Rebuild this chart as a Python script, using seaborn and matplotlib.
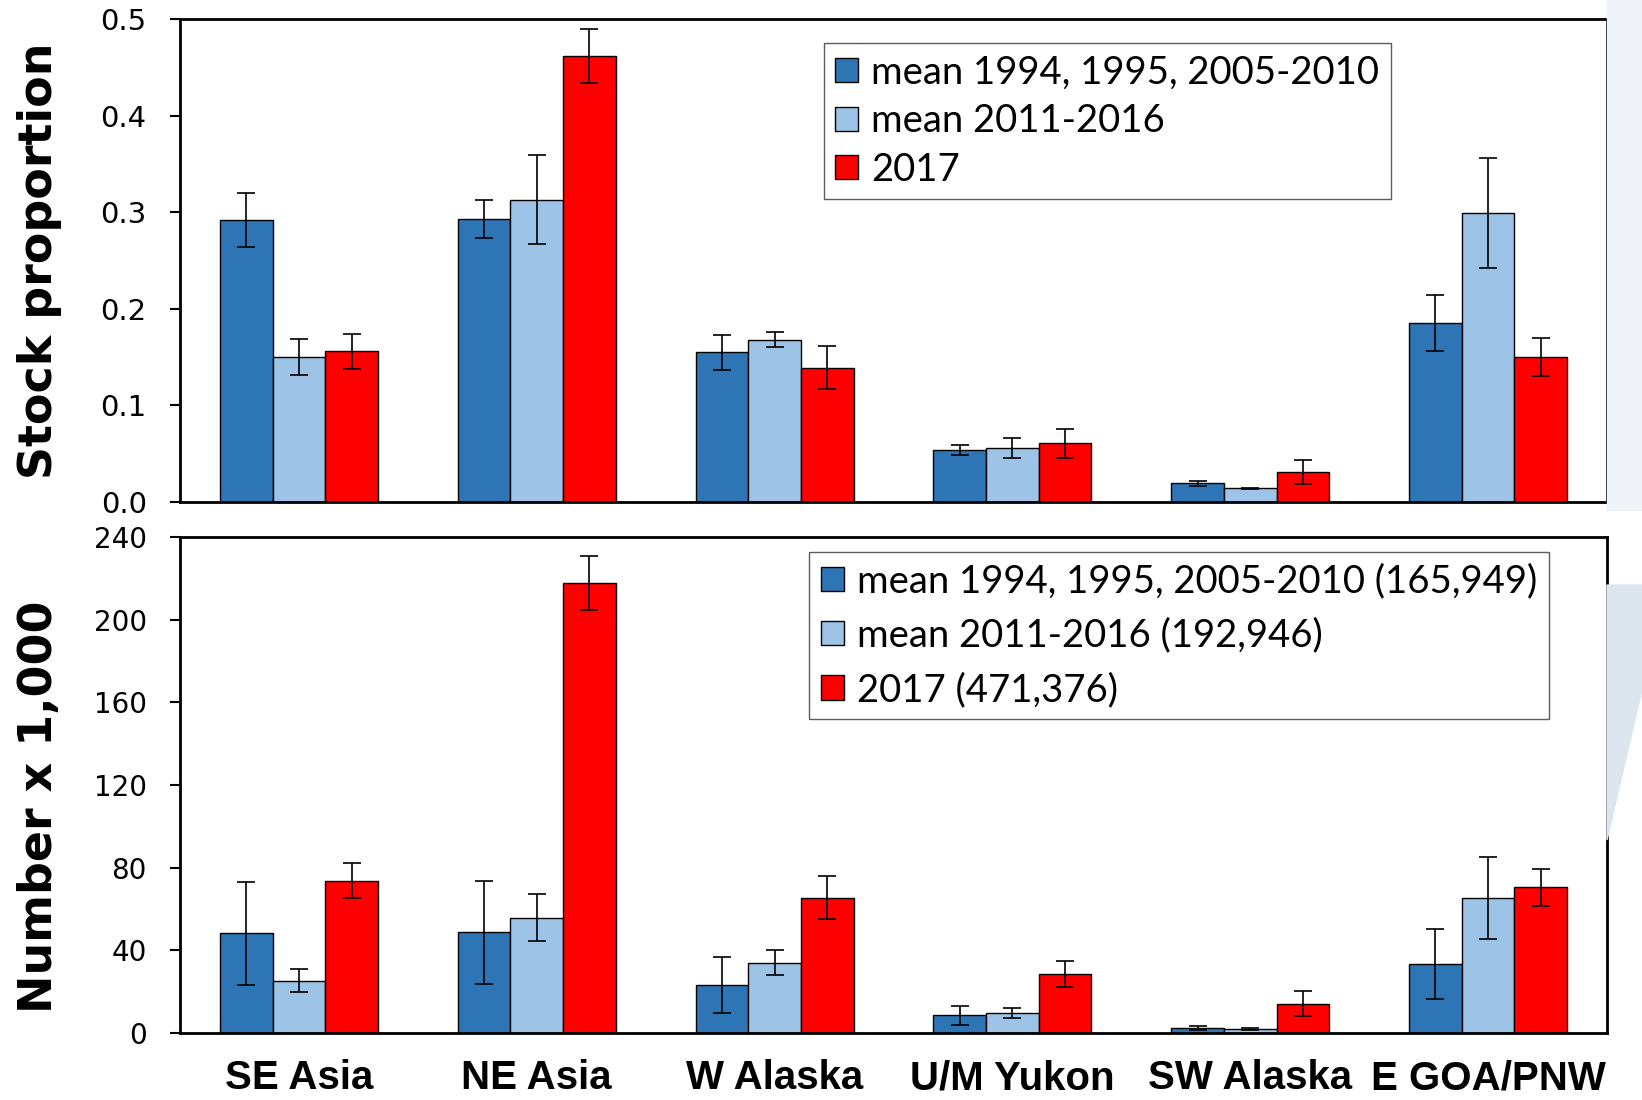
import numpy as np
import pandas as pd
import matplotlib
matplotlib.use("Agg")
import matplotlib.pyplot as plt
import matplotlib.patches as mpatches
import seaborn as sns

# data
regions = ["SE Asia", "NE Asia", "W Alaska", "U/M Yukon", "SW Alaska", "E GOA/PNW"]
periods = ["mean 1994, 1995, 2005-2010", "mean 2011-2016", "2017"]
period_totals = ["(165,949)", "(192,946)", "(471,376)"]

prop_early = [0.292, 0.293, 0.155, 0.054, 0.0195, 0.185]
prop_mid = [0.150, 0.313, 0.168, 0.056, 0.014, 0.299]
prop_2017 = [0.156, 0.462, 0.139, 0.061, 0.031, 0.150]
prop_early_err = [0.028, 0.020, 0.018, 0.0055, 0.0025, 0.029]
prop_mid_err = [0.019, 0.046, 0.008, 0.010, 0.001, 0.057]
prop_2017_err = [0.018, 0.028, 0.022, 0.015, 0.012, 0.020]

num_early = [48.2, 48.7, 23.3, 8.6, 2.5, 33.5]
num_mid = [25.4, 55.8, 34.0, 9.6, 2.0, 65.4]
num_2017 = [73.6, 217.7, 65.4, 28.4, 14.2, 70.5]
num_early_err = [25.0, 25.0, 13.7, 4.6, 1.0, 17.0]
num_mid_err = [5.5, 11.5, 6.0, 2.5, 0.5, 20.0]
num_2017_err = [8.5, 13.0, 10.4, 6.3, 6.0, 9.0]

colors = ["#2E75B6", "#9DC3E6", "#FF0000"]


def long_table(vals, errs):
    rows = []
    for p, v, e in zip(periods, vals, errs):
        for r, vv, ee in zip(regions, v, e):
            rows.append({"region": r, "period": p, "value": vv, "err": ee})
    return pd.DataFrame(rows)


df_prop = long_table([prop_early, prop_mid, prop_2017],
                     [prop_early_err, prop_mid_err, prop_2017_err])
df_num = long_table([num_early, num_mid, num_2017],
                    [num_early_err, num_mid_err, num_2017_err])

sns.set_style("white")
plt.rcParams["font.family"] = ["DejaVu Sans"]
plt.rcParams["text.color"] = "black"
plt.rcParams["axes.labelcolor"] = "black"
plt.rcParams["xtick.color"] = "black"
plt.rcParams["ytick.color"] = "black"

fig = plt.figure(figsize=(16.42, 11), dpi=100)
W, H = 1642, 1100

# faint slide background decoration on the right
fig.patches.append(mpatches.Rectangle((1607 / W, 1 - 510 / H), 35 / W, 510 / H,
                                      transform=fig.transFigure, color="#f0f3f7", zorder=0))
fig.patches.append(mpatches.Polygon([(1607 / W, 1 - 585 / H), (1.0, 1 - 585 / H),
                                     (1.0, 1 - 690 / H), (1607 / W, 1 - 840 / H)],
                                    closed=True, transform=fig.transFigure,
                                    color="#dde5ee", zorder=0))

ax1 = fig.add_axes([180 / W, 1 - 502 / H, 1427 / W, 483 / H])
ax2 = fig.add_axes([180 / W, 1 - 1033 / H, 1427 / W, 496 / H])


def draw(ax, df, tick_size):
    sns.barplot(data=df, x="region", y="value", hue="period", order=regions,
                hue_order=periods, palette=colors, errorbar=None, width=0.665,
                edgecolor="black", linewidth=1, saturation=1, ax=ax, zorder=2)
    for cont, p in zip(ax.containers, periods):
        sub = df[df["period"] == p].set_index("region").loc[regions]
        xs = [b.get_x() + b.get_width() / 2 for b in cont]
        ax.errorbar(xs, sub["value"], yerr=sub["err"], fmt="none", ecolor="black",
                    elinewidth=1.2, capsize=6.5, capthick=1.2, zorder=3)
    ax.set_xlim(-0.5, 5.5)
    for s in ax.spines.values():
        s.set_visible(True)
        s.set_color("black")
        s.set_linewidth(2)
    ax.tick_params(axis="y", direction="out", length=7, width=1.5, left=True,
                   labelsize=tick_size, pad=17, colors="black")
    ax.tick_params(axis="x", length=0)


def style_legend(leg):
    leg.get_frame().set_edgecolor("#333333")
    leg.get_frame().set_linewidth(1)


draw(ax1, df_prop, 21)
ax1.set_ylim(0, 0.5)
ax1.set_yticks(np.arange(0, 0.51, 0.1))
ax1.set_yticklabels([f"{t:.1f}" for t in np.arange(0, 0.51, 0.1)])
ax1.set_xticklabels([])
ax1.set_xlabel("")
ax1.set_ylabel("Stock proportion", fontsize=33, fontweight="bold", va="center")
ax1.yaxis.set_label_coords(-0.0988, 0.50)
leg1 = ax1.legend(loc="upper left", bbox_to_anchor=(0.451, 0.95),
                  prop={"family": "Lato", "size": 27.5},
                  frameon=True, fancybox=False, handlelength=0.6, handleheight=0.6,
                  handletextpad=0.35, labelspacing=0.33, borderpad=0.3, borderaxespad=0)
style_legend(leg1)

draw(ax2, df_num, 20)
ax2.set_ylim(0, 240)
ax2.set_yticks(np.arange(0, 241, 40))
ax2.set_xlabel("")
ax2.set_xticks(range(len(regions)))
ax2.set_xticklabels(regions, fontsize=29, fontweight="bold", color="black",
                    family=["Liberation Sans", "DejaVu Sans"])
ax2.tick_params(axis="x", pad=19)
ax2.set_ylabel("Number x 1,000", fontsize=33, fontweight="bold", va="center")
ax2.yaxis.set_label_coords(-0.0988, 0.456)
handles, labels = ax2.get_legend_handles_labels()
leg2 = ax2.legend(handles, [f"{p} {t}" for p, t in zip(periods, period_totals)],
                  loc="upper left", bbox_to_anchor=(0.441, 0.97),
                  prop={"family": "Lato", "size": 27.5},
                  frameon=True, fancybox=False, handlelength=0.6, handleheight=0.6,
                  handletextpad=0.35, labelspacing=0.48, borderpad=0.3, borderaxespad=0)
style_legend(leg2)

fig.savefig("out.png", dpi=100)
